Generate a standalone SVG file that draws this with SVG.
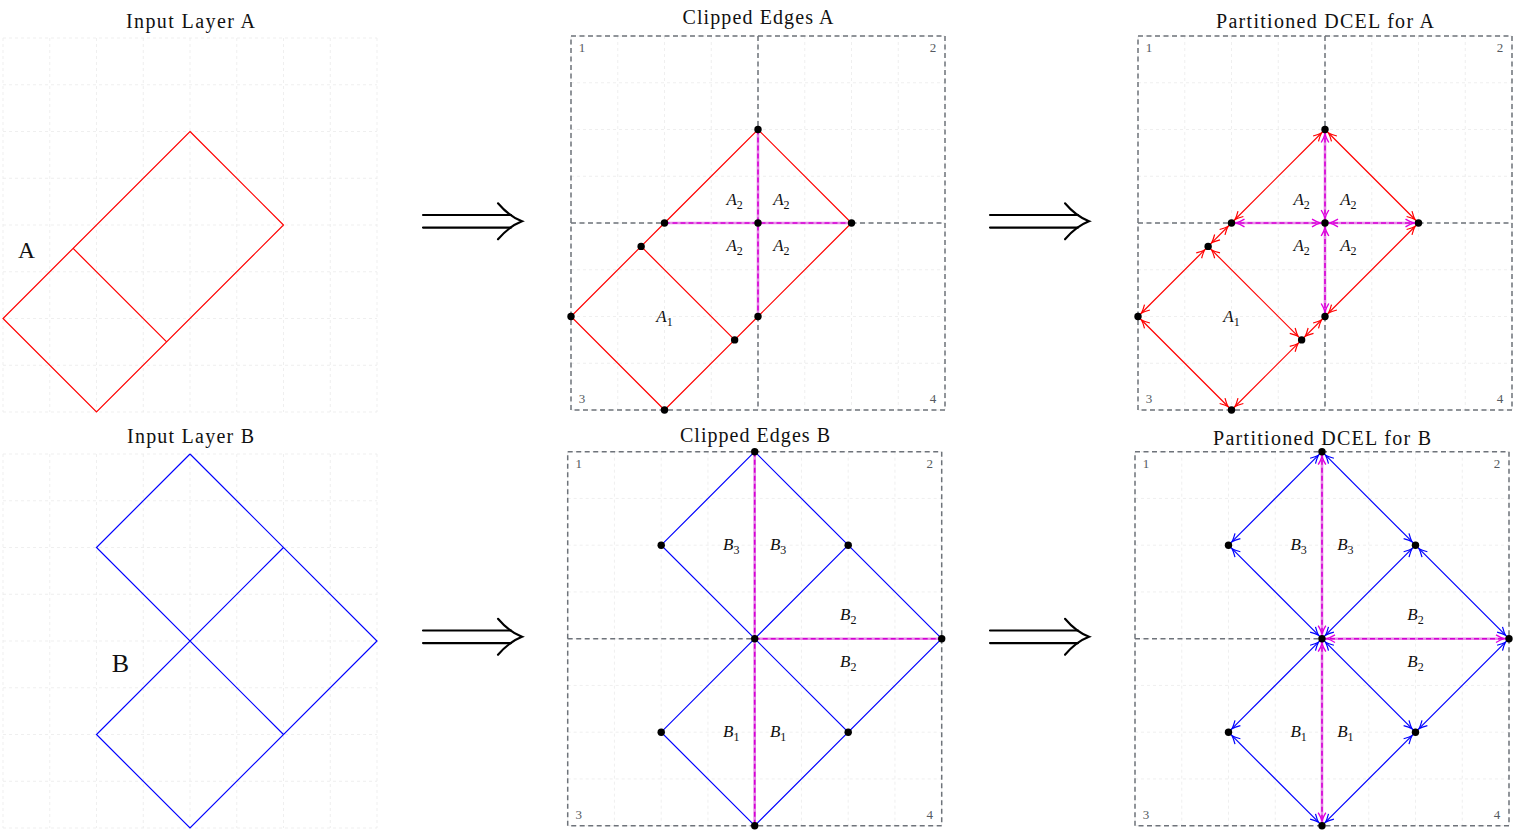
<svg xmlns="http://www.w3.org/2000/svg" width="1513" height="832" viewBox="0 0 1513 832">
<style>
.title{font-family:"Liberation Serif","Times New Roman",serif;font-size:20px;fill:#111;text-anchor:middle}
.big{font-family:"Liberation Serif","Times New Roman",serif;fill:#111;text-anchor:middle}
.face{font-family:"Liberation Serif","Times New Roman",serif;font-style:italic;font-size:17px;fill:#111;text-anchor:middle}
.sub{font-size:12px;font-style:normal}
.corner{font-family:"Liberation Serif","Times New Roman",serif;font-size:13px;fill:#555a60;text-anchor:middle}
.grid{stroke:#ebebeb;stroke-width:0.8;stroke-dasharray:3 3;fill:none}
.box{stroke:#6e737a;stroke-width:1.5;stroke-dasharray:5 3.5;fill:none}
.red{stroke:#ff0000;stroke-width:1.2;fill:none}
.blue{stroke:#0000ff;stroke-width:1.2;fill:none}
.mbase{stroke:#e88ae8;stroke-width:2.6;fill:none}
.mdash{stroke:#d400d4;stroke-width:1.6;stroke-dasharray:5 3;fill:none}
.ra{marker-start:url(#arR);marker-end:url(#arR)}
.ba{marker-start:url(#arB);marker-end:url(#arB)}
.ma{marker-start:url(#arM);marker-end:url(#arM)}
.dot{fill:#000}
.impl{stroke:#000;stroke-width:2.1;fill:none;stroke-linecap:round}
</style>
<defs>
<path id="gridp" d="M0,0V374M46.75,0V374M93.5,0V374M140.25,0V374M187,0V374M233.75,0V374M280.5,0V374M327.25,0V374M374,0V374M0,0H374M0,46.75H374M0,93.5H374M0,140.25H374M0,187H374M0,233.75H374M0,280.5H374M0,327.25H374M0,374H374"/>
<g id="frame">
<use href="#gridp" class="grid"/>
<rect x="0" y="0" width="374" height="374" class="box"/>
<path d="M187,0V374M0,187H374" class="box"/>
</g>
<marker id="arR" viewBox="-12 -6 24 12" markerWidth="24" markerHeight="12" refX="5" refY="0" orient="auto-start-reverse" markerUnits="userSpaceOnUse" overflow="visible"><path d="M-8,-3.8 Q-3,-0.9 0,0 Q-3,0.9 -8,3.8" fill="none" stroke="#ff0000" stroke-width="1.2"/></marker>
<marker id="arB" viewBox="-12 -6 24 12" markerWidth="24" markerHeight="12" refX="5" refY="0" orient="auto-start-reverse" markerUnits="userSpaceOnUse" overflow="visible"><path d="M-8,-3.8 Q-3,-0.9 0,0 Q-3,0.9 -8,3.8" fill="none" stroke="#0000ff" stroke-width="1.2"/></marker>
<marker id="arM" viewBox="-12 -6 24 12" markerWidth="24" markerHeight="12" refX="5" refY="0" orient="auto-start-reverse" markerUnits="userSpaceOnUse" overflow="visible"><path d="M-8,-3.8 Q-3,-0.9 0,0 Q-3,0.9 -8,3.8" fill="none" stroke="#e000e0" stroke-width="1.4"/></marker>
<g id="implies">
<path class="impl" d="M0,-6.3H88M0,6.3H88"/>
<path class="impl" d="M75,-18Q86,-5 99,0Q86,5 75,18"/>
</g>
</defs>
<rect width="1513" height="832" fill="#fff"/>

<!-- Input Layer A -->
<g id="input-a">
<use href="#gridp" class="grid" transform="translate(3,38)"/>
<text class="title" x="190.5" y="28" textLength="129">Input Layer A</text>
<text class="big" x="26.5" y="258" font-size="23.5">A</text>
<g transform="translate(3,38)">
<path class="red" d="M187,93.5L280.5,187L93.5,374L0,280.5Z M70.13,210.38L163.63,303.88"/>
</g>
</g>

<!-- Clipped Edges A -->
<g id="clipped-a">
<text class="title" x="758" y="24" textLength="151">Clipped Edges A</text>
<g transform="translate(571,36)">
<use href="#frame"/>
<text class="corner" x="11" y="16">1</text>
<text class="corner" x="362" y="16">2</text>
<text class="corner" x="11" y="367">3</text>
<text class="corner" x="362" y="367">4</text>
<path class="red" d="M93.5,374L0,280.5L70.13,210.38L93.5,187L187,93.5L280.5,187L187,280.5L163.63,303.88L93.5,374M70.13,210.38L163.63,303.88"/>
<path class="mbase" d="M187,93.5V280.5M93.5,187H280.5"/>
<path class="mdash" d="M187,93.5V280.5M93.5,187H280.5"/>
<g class="dot">
<circle cx="187" cy="93.5" r="3.7"/><circle cx="93.5" cy="187" r="3.7"/><circle cx="280.5" cy="187" r="3.7"/><circle cx="187" cy="187" r="3.7"/><circle cx="70.13" cy="210.38" r="3.7"/><circle cx="0" cy="280.5" r="3.7"/><circle cx="163.63" cy="303.88" r="3.7"/><circle cx="187" cy="280.5" r="3.7"/><circle cx="93.5" cy="374" r="3.7"/>
</g>
<text class="face" x="163.6" y="168.5">A<tspan class="sub" dy="4">2</tspan></text>
<text class="face" x="210.4" y="168.5">A<tspan class="sub" dy="4">2</tspan></text>
<text class="face" x="163.6" y="215.4">A<tspan class="sub" dy="4">2</tspan></text>
<text class="face" x="210.4" y="215.4">A<tspan class="sub" dy="4">2</tspan></text>
<text class="face" x="93.5" y="285.5">A<tspan class="sub" dy="4">1</tspan></text>
</g>
</g>

<!-- Partitioned DCEL for A -->
<g id="dcel-a">
<text class="title" x="1325" y="28.3" textLength="218">Partitioned DCEL for A</text>
<g transform="translate(1138,36)">
<use href="#frame"/>
<text class="corner" x="11" y="16">1</text>
<text class="corner" x="362" y="16">2</text>
<text class="corner" x="11" y="367">3</text>
<text class="corner" x="362" y="367">4</text>
<g class="red ra">
<line x1="93.5" y1="374" x2="0" y2="280.5"/>
<line x1="0" y1="280.5" x2="70.13" y2="210.38"/>
<line x1="70.13" y1="210.38" x2="93.5" y2="187"/>
<line x1="93.5" y1="187" x2="187" y2="93.5"/>
<line x1="187" y1="93.5" x2="280.5" y2="187"/>
<line x1="280.5" y1="187" x2="187" y2="280.5"/>
<line x1="187" y1="280.5" x2="163.63" y2="303.88"/>
<line x1="163.63" y1="303.88" x2="93.5" y2="374"/>
<line x1="70.13" y1="210.38" x2="163.63" y2="303.88"/>
</g>
<path class="mbase" d="M187,93.5V280.5M93.5,187H280.5"/>
<g class="mdash ma">
<line x1="187" y1="93.5" x2="187" y2="187"/>
<line x1="187" y1="187" x2="187" y2="280.5"/>
<line x1="93.5" y1="187" x2="187" y2="187"/>
<line x1="187" y1="187" x2="280.5" y2="187"/>
</g>
<g class="dot">
<circle cx="187" cy="93.5" r="3.7"/><circle cx="93.5" cy="187" r="3.7"/><circle cx="280.5" cy="187" r="3.7"/><circle cx="187" cy="187" r="3.7"/><circle cx="70.13" cy="210.38" r="3.7"/><circle cx="0" cy="280.5" r="3.7"/><circle cx="163.63" cy="303.88" r="3.7"/><circle cx="187" cy="280.5" r="3.7"/><circle cx="93.5" cy="374" r="3.7"/>
</g>
<text class="face" x="163.6" y="168.5">A<tspan class="sub" dy="4">2</tspan></text>
<text class="face" x="210.4" y="168.5">A<tspan class="sub" dy="4">2</tspan></text>
<text class="face" x="163.6" y="215.4">A<tspan class="sub" dy="4">2</tspan></text>
<text class="face" x="210.4" y="215.4">A<tspan class="sub" dy="4">2</tspan></text>
<text class="face" x="93.5" y="285.5">A<tspan class="sub" dy="4">1</tspan></text>
</g>
</g>

<!-- Input Layer B -->
<g id="input-b">
<use href="#gridp" class="grid" transform="translate(3,454)"/>
<text class="title" x="190.5" y="443.3" textLength="127">Input Layer B</text>
<text class="big" x="120.5" y="671.7" font-size="26">B</text>
<g transform="translate(3,454)">
<path class="blue" d="M187,0L374,187L187,374L93.5,280.5L280.5,93.5M187,0L93.5,93.5L280.5,280.5"/>
</g>
</g>

<!-- Clipped Edges B -->
<g id="clipped-b">
<text class="title" x="755" y="441.7" textLength="150">Clipped Edges B</text>
<g transform="translate(567.7,451.7)">
<use href="#frame"/>
<text class="corner" x="11" y="16">1</text>
<text class="corner" x="362" y="16">2</text>
<text class="corner" x="11" y="367">3</text>
<text class="corner" x="362" y="367">4</text>
<path class="blue" d="M187,0L93.5,93.5L187,187M187,0L280.5,93.5L374,187M280.5,93.5L187,187L93.5,280.5L187,374M187,187L280.5,280.5L374,187M280.5,280.5L187,374"/>
<path class="mbase" d="M187,0V374M187,187H374"/>
<path class="mdash" d="M187,0V374M187,187H374"/>
<g class="dot">
<circle cx="187" cy="0" r="3.7"/><circle cx="93.5" cy="93.5" r="3.7"/><circle cx="280.5" cy="93.5" r="3.7"/><circle cx="187" cy="187" r="3.7"/><circle cx="374" cy="187" r="3.7"/><circle cx="93.5" cy="280.5" r="3.7"/><circle cx="280.5" cy="280.5" r="3.7"/><circle cx="187" cy="374" r="3.7"/>
</g>
<text class="face" x="163.6" y="98.5">B<tspan class="sub" dy="4">3</tspan></text>
<text class="face" x="210.4" y="98.5">B<tspan class="sub" dy="4">3</tspan></text>
<text class="face" x="280.5" y="168.6">B<tspan class="sub" dy="4">2</tspan></text>
<text class="face" x="280.5" y="215.4">B<tspan class="sub" dy="4">2</tspan></text>
<text class="face" x="163.6" y="285.5">B<tspan class="sub" dy="4">1</tspan></text>
<text class="face" x="210.4" y="285.5">B<tspan class="sub" dy="4">1</tspan></text>
</g>
</g>

<!-- Partitioned DCEL for B -->
<g id="dcel-b">
<text class="title" x="1322" y="445" textLength="218">Partitioned DCEL for B</text>
<g transform="translate(1135,451.7)">
<use href="#frame"/>
<text class="corner" x="11" y="16">1</text>
<text class="corner" x="362" y="16">2</text>
<text class="corner" x="11" y="367">3</text>
<text class="corner" x="362" y="367">4</text>
<g class="blue ba">
<line x1="187" y1="0" x2="93.5" y2="93.5"/>
<line x1="93.5" y1="93.5" x2="187" y2="187"/>
<line x1="187" y1="0" x2="280.5" y2="93.5"/>
<line x1="280.5" y1="93.5" x2="374" y2="187"/>
<line x1="280.5" y1="93.5" x2="187" y2="187"/>
<line x1="187" y1="187" x2="93.5" y2="280.5"/>
<line x1="93.5" y1="280.5" x2="187" y2="374"/>
<line x1="187" y1="187" x2="280.5" y2="280.5"/>
<line x1="280.5" y1="280.5" x2="374" y2="187"/>
<line x1="280.5" y1="280.5" x2="187" y2="374"/>
</g>
<path class="mbase" d="M187,0V374M187,187H374"/>
<g class="mdash ma">
<line x1="187" y1="0" x2="187" y2="187"/>
<line x1="187" y1="187" x2="187" y2="374"/>
<line x1="187" y1="187" x2="374" y2="187"/>
</g>
<g class="dot">
<circle cx="187" cy="0" r="3.7"/><circle cx="93.5" cy="93.5" r="3.7"/><circle cx="280.5" cy="93.5" r="3.7"/><circle cx="187" cy="187" r="3.7"/><circle cx="374" cy="187" r="3.7"/><circle cx="93.5" cy="280.5" r="3.7"/><circle cx="280.5" cy="280.5" r="3.7"/><circle cx="187" cy="374" r="3.7"/>
</g>
<text class="face" x="163.6" y="98.5">B<tspan class="sub" dy="4">3</tspan></text>
<text class="face" x="210.4" y="98.5">B<tspan class="sub" dy="4">3</tspan></text>
<text class="face" x="280.5" y="168.6">B<tspan class="sub" dy="4">2</tspan></text>
<text class="face" x="280.5" y="215.4">B<tspan class="sub" dy="4">2</tspan></text>
<text class="face" x="163.6" y="285.5">B<tspan class="sub" dy="4">1</tspan></text>
<text class="face" x="210.4" y="285.5">B<tspan class="sub" dy="4">1</tspan></text>
</g>
</g>

<!-- Connectors between panels -->
<g id="connectors">
<use href="#implies" transform="translate(423,221.3)"/>
<use href="#implies" transform="translate(990,221.3)"/>
<use href="#implies" transform="translate(423,636.8)"/>
<use href="#implies" transform="translate(990,636.8)"/>
</g>
</svg>
